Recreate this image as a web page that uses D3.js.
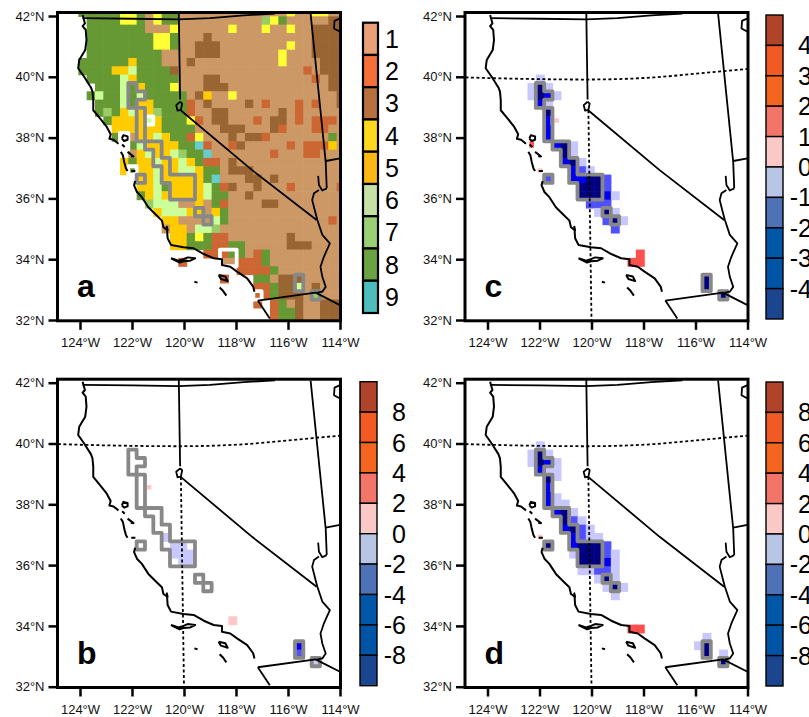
<!DOCTYPE html>
<html>
<head>
<meta charset="utf-8">
<script src="https://cdn.jsdelivr.net/npm/d3@7"></script>
<style>
  html, body { margin: 0; background: #fff; }
  svg { display: block; font-family: "Liberation Sans", Arial, sans-serif; }
</style>
</head>
<body>
<svg id="chart" width="809" height="717"></svg>
<script>
// Land use classes per grid cell, one string per row, spaces only group columns by five.
const landUseRows = [
  "...88 88844 81488 11111 11111 11141 14411",
  "....8 88844 81488 11111 11111 74811 11133",
  "....8 88888 81114 11111 14111 41141 13333",
  "....8 88888 88448 11131 11111 11111 13333",
  "....8 88888 88448 11333 11111 11141 13333",
  "....8 88888 88811 11333 11111 11411 13333",
  "...88 88885 88811 13111 11111 11411 11333",
  "...88 88556 88883 11111 11111 11111 21333",
  "....8 88865 88888 11133 11111 11111 12133",
  "..... 88868 58884 11133 31111 11111 11133",
  "....8 68868 68888 81351 14111 11111 11113",
  "..... 88868 55888 82131 11131 21112 12113",
  "..... 87856 55788 82113 31111 11312 11111",
  "..... .8555 56588 84213 31112 13312 12221",
  "..... ..555 55588 88111 33311 13211 12211",
  "..... ..8.1 55658 82411 13133 21111 11181",
  "..... ....8 65555 88921 12311 11121 22251",
  "..... ....1 56556 78891 11111 12111 22111",
  "..... ...58 55655 65822 13111 11111 11111",
  "..... ...58 55655 66588 13331 11111 11111",
  "..... ..... 55655 55589 11133 13111 11111",
  "..... ..... 55685 55568 23113 11121 11112",
  "..... ..... 85655 55568 81131 11111 11111",
  "..... ..... .7666 11518 21111 33111 11111",
  "..... ..... ..566 65515 81111 11111 11111",
  "..... ..... ...55 11116 81111 11111 11121",
  "..... ..... ...15 51667 11111 11111 11111",
  "..... ..... ....5 58482 21111 11131 11111",
  "..... ..... ....5 58882 28811 11133 31111",
  "..... ..... ..... ...22 28812 81111 11111",
  "..... ..... ..... 2.... 11222 81111 11111",
  "..... ..... ..... ..... ..222 28111 11111",
  "..... ..... ..... ..... 2...8 81333 11111",
  "..... ..... ..... ..... ....2 28336 13111",
  "..... ..... ..... ..... ....2 28333 17111",
  "..... ..... ..... ..... ....2 .2813 11333",
  "..... ..... ..... ..... ..... .2883 11333",
  "..... ..... ..... ..... ..... .2883 11333",
];
const landCodes = ["1", "2", "3", "4", "5", "6", "7", "8", "9"];
const landMapColors = ["#CC9966", "#CC6633", "#996633", "#FFFF33", "#FFCC00", "#CCFF99", "#99CC66", "#669933", "#66CCCC"];
const landBarColors = ["#E9A077", "#F47038", "#B9703F", "#FED71F", "#FDB813", "#C5E1A5", "#9BCF74", "#6BA343", "#4DBCBC"];

// Difference bins: [row, first column, bins]
const diffCodes = ["a", "b", "c", "d", "p", "r"];
const diffColors = ["#C8C8FF", "#5050FF", "#0000F0", "#000080", "#FFC8C8", "#FF5050"];
const panelBCells = [
  [13, 11, "p"], [19, 13, "a"], [20, 14, "aa"], [21, 14, "aaa"], [22, 15, "aa"],
  [29, 21, "p"], [32, 29, "c"], [33, 29, "b"], [34, 31, "a"],
];
const panelCCells = [
  [8, 9, "a"], [9, 8, "ada"], [10, 8, "adca"], [11, 9, "ca"], [12, 10, "d"], [13, 10, "cp"],
  [14, 10, "c"], [15, 10, "c"], [16, 8, "r"], [16, 11, "cda"], [17, 12, "da"], [18, 12, "cda"],
  [19, 9, "p"], [19, 13, "cba"], [20, 10, "b"], [20, 13, "ccddb"], [21, 14, "dddb"],
  [22, 14, "dddca"], [23, 15, "bbb"], [24, 16, "ada"], [25, 17, "bda"], [26, 18, "b"],
  [29, 21, "r"], [30, 20, "rr"], [32, 29, "d"], [33, 29, "d"], [34, 31, "d"],
];
const panelDCells = [
  [8, 9, "a"], [9, 8, "ada"], [10, 8, "adca"], [11, 9, "caa"], [12, 10, "da"], [13, 10, "c"],
  [14, 10, "ca"], [15, 10, "caa"], [16, 11, "cda"], [17, 12, "dba"], [18, 12, "cdba"],
  [19, 9, "p"], [19, 13, "cbaa"], [20, 10, "d"], [20, 13, "cdddb"], [21, 13, "adddba"],
  [22, 14, "dddca"], [23, 14, "aabba"], [24, 16, "ada"], [25, 17, "ada"], [26, 18, "a"],
  [30, 20, "rr"], [31, 29, "a"], [32, 28, "ad"], [33, 29, "d"], [33, 31, "a"], [34, 31, "d"],
];

// Cells outlined in grey and white: [row, column]
const greyCells = [
  [9, 9], [10, 9], [10, 10], [11, 9], [12, 10], [13, 10], [14, 10], [15, 10], [16, 11], [16, 12],
  [17, 12], [18, 12], [18, 13], [19, 13], [20, 10], [20, 13], [20, 14], [20, 15], [20, 16],
  [21, 14], [21, 15], [21, 16], [22, 14], [22, 15], [22, 16], [24, 17], [25, 18],
  [32, 29], [33, 29], [34, 31],
];
const whiteCells = [[13, 11], [15, 8], [16, 8], [19, 9], [34, 24]];
const whiteBoxCells = [[29, 20], [29, 21], [30, 20], [30, 21]];

// Grid origin and cell size in degrees
const gridLon0 = -125.026, gridDLon = 0.3205;
const gridLat0 = 42.263, gridDLat = 0.274;

// Map outlines as [lon, lat]
const coastline = [
  [[-123.9, 42.03], [-123.81, 41.76], [-123.9, 41.67], [-123.78, 41.54], [-123.75, 41.21], [-123.8, 40.88],
   [-124.03, 40.55], [-124.07, 40.28], [-123.84, 40], [-123.58, 39.65], [-123.52, 39.51],
   [-123.49, 39.23], [-123.49, 38.9], [-123.23, 38.63], [-122.97, 38.35], [-122.82, 38.11], [-122.87, 37.96],
   [-122.71, 37.93], [-122.52, 37.8]],
  [[-122.39, 37.97], [-122.33, 38.08], [-122.17, 38.04], [-122.17, 37.93], [-122.3, 37.89], [-122.39, 37.97]],
  [[-122.38, 37.77], [-122.28, 37.69]],
  [[-122.17, 37.53], [-121.94, 37.38], [-122.05, 37.39]],
  [[-122.43, 37.53], [-122.35, 37.42], [-122.3, 37.2], [-122.23, 36.98], [-122.17, 36.9]],
  [[-122.03, 36.9], [-121.87, 36.9]],
  [[-121.88, 36.57], [-121.92, 36.43], [-121.81, 36.21], [-121.62, 36.04], [-121.37, 35.71], [-121.04, 35.43],
   [-120.85, 35.27], [-120.79, 35.05], [-120.63, 34.95], [-120.66, 35.07], [-120.63, 34.69], [-120.5, 34.47],
   [-120.02, 34.39], [-119.63, 34.36], [-119.24, 34.17], [-118.86, 34.03], [-118.54, 34], [-118.54, 33.81],
   [-118.22, 33.75], [-117.96, 33.59], [-117.57, 33.37], [-117.34, 33.1], [-117.29, 32.93]],
  [[-120.5, 34.03], [-120.21, 33.95], [-120.02, 34], [-119.86, 34.06], [-119.57, 34.03], [-119.76, 33.95],
   [-120.02, 33.93], [-120.17, 33.89], [-120.5, 34.03]],
  [[-118.67, 33.48], [-118.41, 33.43], [-118.32, 33.28], [-118.58, 33.35], [-118.67, 33.48]],
  [[-118.63, 33.07], [-118.5, 32.96], [-118.37, 32.8]],
  [[-119.6, 33.26], [-119.48, 33.23]],
];
const stateLines = [
  [[-123.9, 41.93], [-122, 41.91], [-120.21, 41.89], [-119, 41.93], [-117.7, 42.02], [-116.5, 42.08]],
  [[-120.2, 42.1], [-120.15, 39.25]],
  [[-120.15, 39.18], [-120.3, 39.07], [-120.25, 38.89], [-120.12, 38.91], [-120.07, 39.12], [-120.15, 39.18]],
  [[-120.14, 38.91], [-117.38, 36.93], [-114.9, 35.29]],
  [[-115.13, 42.07], [-114.55, 37.2], [-114.51, 36.33]],
  [[-114.55, 37.23], [-114, 37.32]],
  [[-114.84, 36.74], [-114.81, 36.44], [-114.68, 36.26], [-114.51, 36.33]],
  [[-114.81, 36.28], [-115, 36.17], [-115.07, 35.95], [-114.94, 35.51], [-114.87, 35.29], [-114.68, 34.8],
   [-114.39, 34.52], [-114.62, 34.08], [-114.75, 33.75], [-114.68, 33.42], [-114.55, 33.09], [-114.68, 32.93],
   [-114.87, 32.9]],
  [[-117.16, 32.64], [-114.94, 32.9], [-114, 32.49]],
  [[-117.16, 32.64], [-116.7, 32.05]],
  [[-114, 41.92], [-114.21, 41.84], [-114.23, 41.59], [-114, 41.48]],
];
const parallel40 = [[-124.85, 39.98], [-122.5, 39.93], [-120.25, 39.91], [-118.8, 39.93], [-117.6, 39.98], [-116, 40.1], [-114.9, 40.19], [-113.98, 40.26]];
const meridian120 = [[-120.12, 38.9], [-120, 32]];

const lonTicks = [-124, -122, -120, -118, -116, -114];
const latTicks = [42, 40, 38, 36, 34, 32];
const landLabels = ["1", "2", "3", "4", "5", "6", "7", "8", "9"];
const diffBarColors = ["#B1432A", "#F15A22", "#F4661F", "#F37468", "#FBC8C8", "#B9C5E5", "#4F71B5", "#0057A8", "#0054A6", "#1B458F"];
const diffLabelsC = ["4", "3", "2", "1", "0", "-1", "-2", "-3", "-4"];
const diffLabelsB = ["8", "6", "4", "2", "0", "-2", "-4", "-6", "-8"];

const svg = d3.select("#chart");

const x = d3.scaleLinear().domain([-124, -114]).range([80, 340]);
const y = d3.scaleLinear().domain([42, 32]).range([16, 320]);
const frame = { left: 57.5, right: 340.5, top: 12.5, bottom: 320.8 };
const landColor = d3.scaleOrdinal(landCodes, landMapColors);
const diffColor = d3.scaleOrdinal(diffCodes, diffColors);

const colX = (c) => x(gridLon0 + c * gridDLon);
const rowY = (r) => y(gridLat0 - r * gridDLat);
const line = d3.line().x((d) => x(d[0])).y((d) => y(d[1]));
const dottedLine = d3.line().x((d) => x(d[0])).y((d) => y(d[1])).curve(d3.curveMonotoneX);

// Flat list of cells for the data joins.
const landCells = landUseRows.flatMap((row, r) =>
  row.replace(/ /g, "").split("").map((code, c) => ({ r, c, code })).filter((d) => d.code !== ".")
);
const expand = (entries) =>
  entries.flatMap(([r, c0, codes]) => codes.split("").map((code, i) => ({ r, c: c0 + i, code })));

// Outline of a set of cells: every cell side with no neighbour in the set.
const outlinePath = (cells) => {
  const has = new Set(cells.map(([r, c]) => r + "," + c));
  const p = d3.path();
  const seg = (c0, r0, c1, r1) => {
    p.moveTo(colX(c0), rowY(r0));
    p.lineTo(colX(c1), rowY(r1));
  };
  cells.forEach(([r, c]) => {
    if (!has.has(r - 1 + "," + c)) seg(c, r, c + 1, r);
    if (!has.has(r + 1 + "," + c)) seg(c, r + 1, c + 1, r + 1);
    if (!has.has(r + "," + (c - 1))) seg(c, r, c, r + 1);
    if (!has.has(r + "," + (c + 1))) seg(c + 1, r, c + 1, r + 1);
  });
  return p.toString();
};

svg.append("defs").append("clipPath").attr("id", "map-clip").append("rect")
  .attr("x", frame.left).attr("y", frame.top)
  .attr("width", frame.right - frame.left).attr("height", frame.bottom - frame.top);

const drawPanel = (opts) => {
  const g = svg.append("g").attr("transform", `translate(${opts.dx},${opts.dy})`);
  const map = g.append("g").attr("clip-path", "url(#map-clip)");

  map.selectAll("rect.cell")
    .data(opts.cells)
    .join("rect")
    .attr("class", "cell")
    .attr("x", (d) => colX(d.c))
    .attr("y", (d) => rowY(d.r))
    .attr("width", colX(1) - colX(0) + 0.6)
    .attr("height", rowY(1) - rowY(0) + 0.6)
    .attr("fill", (d) => opts.color(d.code));

  map.append("path")
    .attr("d", outlinePath(opts.white))
    .attr("fill", "none").attr("stroke", "#fff").attr("stroke-width", 3.8).attr("stroke-linecap", "round");
  map.append("path")
    .attr("d", outlinePath(greyCells))
    .attr("fill", "none").attr("stroke", "#888").attr("stroke-width", 3.8).attr("stroke-linecap", "round");

  coastline.forEach((part) => {
    map.append("path").attr("d", line(part))
      .attr("fill", "none").attr("stroke", "#000").attr("stroke-width", 2).attr("stroke-linejoin", "round");
  });
  stateLines.forEach((part) => {
    map.append("path").attr("d", line(part))
      .attr("fill", "none").attr("stroke", "#000").attr("stroke-width", 1.8).attr("stroke-linejoin", "round");
  });

  if (opts.dotted) {
    [parallel40, meridian120].forEach((part) => {
      map.append("path").attr("d", dottedLine(part))
        .attr("fill", "none").attr("stroke", "#000").attr("stroke-width", 1.8).attr("stroke-dasharray", "3 2.5");
    });
  }

  g.append("rect")
    .attr("x", frame.left).attr("y", frame.top)
    .attr("width", frame.right - frame.left).attr("height", frame.bottom - frame.top)
    .attr("fill", "none").attr("stroke", "#000").attr("stroke-width", 3);

  const xAxis = d3.axisBottom(x).tickValues(lonTicks).tickSize(9).tickPadding(8)
    .tickFormat((d) => Math.abs(d) + "°W");
  const yAxis = d3.axisLeft(y).tickValues(latTicks).tickSize(9).tickPadding(4)
    .tickFormat((d) => d + "°N");
  [g.append("g").attr("transform", `translate(0,${frame.bottom})`).call(xAxis),
   g.append("g").attr("transform", `translate(${frame.left},0)`).call(yAxis)].forEach((axis) => {
    axis.select(".domain").remove();
    axis.selectAll("line").attr("stroke", "#000").attr("stroke-width", 2.5);
    axis.selectAll("text").attr("font-size", 13).attr("font-family", "Liberation Sans").attr("fill", "#111");
  });

  g.append("text")
    .attr("x", 77).attr("y", 297)
    .attr("font-size", 32).attr("font-weight", "bold")
    .text(opts.letter);
};

const whiteAll = whiteCells.concat(whiteBoxCells);
drawPanel({ letter: "a", dx: 0, dy: 0, cells: landCells, color: landColor, white: whiteAll, dotted: false });
drawPanel({ letter: "b", dx: 0, dy: 366.7, cells: expand(panelBCells), color: diffColor, white: whiteCells, dotted: true });
drawPanel({ letter: "c", dx: 407.5, dy: 0, cells: expand(panelCCells), color: diffColor, white: whiteCells, dotted: true });
drawPanel({ letter: "d", dx: 407.5, dy: 366.7, cells: expand(panelDCells), color: diffColor, white: whiteCells, dotted: true });

// Panel a colour bar, labels centred on the boxes.
const landBar = d3.scaleBand().domain(landLabels).range([22.7, 313]);
const landG = svg.append("g");
landG.selectAll("rect")
  .data(landLabels)
  .join("rect")
  .attr("x", 363).attr("y", (d) => landBar(d))
  .attr("width", 15).attr("height", landBar.bandwidth())
  .attr("fill", (d, i) => landBarColors[i])
  .attr("stroke", "#000").attr("stroke-width", 2.2);
landG.selectAll("text")
  .data(landLabels)
  .join("text")
  .attr("x", 385).attr("y", (d) => landBar(d) + landBar.bandwidth() / 2)
  .attr("dy", "0.36em").attr("font-size", 25)
  .text((d) => d);

// Difference colour bars, labels on the box boundaries.
const drawDiffBar = (barX, barY, labels, labelX) => {
  const barScale = d3.scaleBand().domain(d3.range(diffBarColors.length)).range([barY, barY + 304]);
  const barG = svg.append("g");
  barG.selectAll("rect")
    .data(diffBarColors)
    .join("rect")
    .attr("x", barX).attr("y", (d, i) => barScale(i))
    .attr("width", 17).attr("height", barScale.bandwidth())
    .attr("fill", (d) => d)
    .attr("stroke", "#000").attr("stroke-width", 1.4);
  barG.selectAll("text")
    .data(labels)
    .join("text")
    .attr("x", labelX).attr("y", (d, i) => barScale(i + 1))
    .attr("dy", "0.36em").attr("font-size", 25).attr("text-anchor", "end")
    .text((d) => d);
};
drawDiffBar(360, 381.7, diffLabelsB, 406);
drawDiffBar(766, 15, diffLabelsC, 812);
drawDiffBar(766, 382, diffLabelsB, 812);
</script>
</body>
</html>
